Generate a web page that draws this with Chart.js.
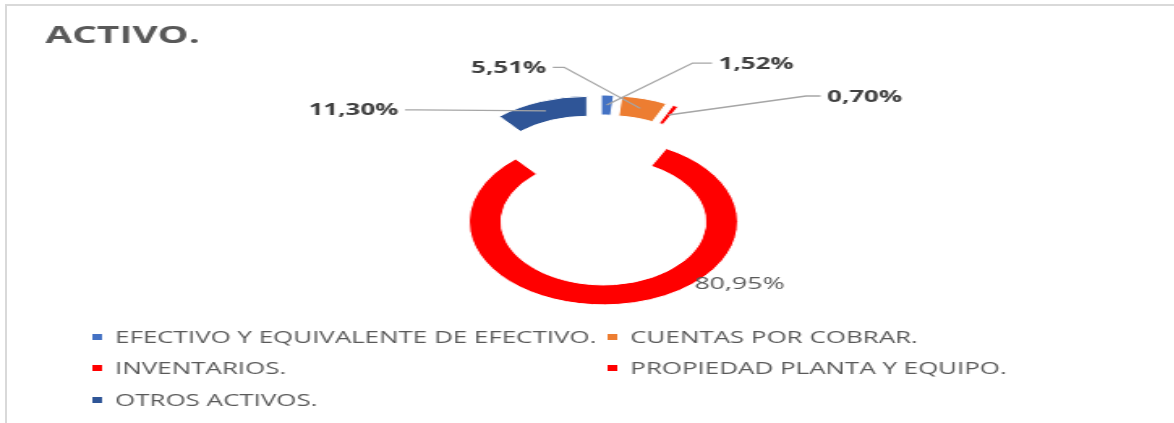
<!DOCTYPE html>
<html>
<head>
<meta charset="utf-8">
<script src="https://cdn.jsdelivr.net/npm/chart.js@4/dist/chart.umd.min.js"></script>
<style>
  body { margin: 0; background: #fff; overflow: hidden; }
  #frame { position: absolute; left: 5px; top: 4px; width: 1169px; height: 419px;
           border-top: 2px solid #d9d9d9; border-left: 2px solid #d9d9d9; }
  /* the reference picture is stretched sideways, so the canvas is too */
  #wrap { position: absolute; left: 0; top: 0; width: 725px; height: 423px;
          transform: scaleX(1.62); transform-origin: 0 0; }
</style>
</head>
<body>
<div id="frame"></div>
<div id="wrap"><canvas id="activoChart"></canvas></div>
<script>
// Chart data
const titulo = 'ACTIVO.';
const categorias = [
    'EFECTIVO Y EQUIVALENTE DE EFECTIVO.',
    'CUENTAS POR COBRAR.',
    'INVENTARIOS.',
    'PROPIEDAD PLANTA Y EQUIPO.',
    'OTROS ACTIVOS.'
];
const porcentajes = [1.52, 5.51, 0.70, 80.95, 11.30];
const colores = ['#4472c4', '#ed7d31', '#ff0000', '#ff0000', '#2f5597'];

const EXPLODE = 22;  // how far every slice is pulled out

// where each callout sits relative to its slice (elbow dx/dy, horizontal run)
const callouts = [
    { dx: 53, dy: -42, run: 12, bold: true },
    { dx: -47, dy: -41, run: -7, bold: true },
    { dx: 85, dy: -19, run: 9, bold: true },
    { dx: 48, dy: -11, run: 0, bold: false, noLine: true },
    { dx: -80, dy: -1, run: -7, bold: true }
];

function fmtPct(v) {
    return v.toFixed(2).replace('.', ',') + '%';
}

function midAngle(arc) {
    const p = arc.getProps(['startAngle', 'endAngle'], true);
    return (p.startAngle + p.endAngle) / 2;
}

// Draw the slices pulled straight out from the centre (Excel style explode)
const explodePlugin = {
    id: 'explode',
    beforeDatasetDraw(chart, args) {
        const ctx = chart.ctx;
        args.meta.data.forEach(arc => {
            const a = midAngle(arc);
            ctx.save();
            ctx.translate(Math.cos(a) * EXPLODE, Math.sin(a) * EXPLODE);
            arc.draw(ctx, chart.chartArea);
            ctx.restore();
        });
        return false;
    }
};

// Title, callout labels and a grid legend
const decorPlugin = {
    id: 'decor',
    afterDraw(chart) {
        const ctx = chart.ctx;
        ctx.save();

        // title
        ctx.fillStyle = '#595959';
        ctx.font = 'bold 24px "Open Sans"';
        ctx.textBaseline = 'alphabetic';
        ctx.textAlign = 'left';
        ctx.fillText(titulo, 28, 43);

        // callouts
        const meta = chart.getDatasetMeta(0);
        meta.data.forEach((arc, i) => {
            const p = arc.getProps(['x', 'y', 'innerRadius', 'outerRadius'], true);
            const mid = midAngle(arc);
            const r = (p.innerRadius + p.outerRadius) / 2 + EXPLODE;
            const ax = p.x + Math.cos(mid) * r;
            const ay = p.y + Math.sin(mid) * r;
            const c = callouts[i];
            const ex = ax + c.dx, ey = ay + c.dy;
            const endX = ex + c.run;
            const right = c.dx > 0;

            if (!c.noLine) {
                ctx.strokeStyle = '#a6a6a6';
                ctx.lineWidth = 1.3;
                ctx.beginPath();
                ctx.moveTo(ax, ay);
                ctx.lineTo(ex, ey);
                ctx.lineTo(endX, ey);
                ctx.stroke();
            }

            ctx.font = c.bold ? 'bold 16px "Open Sans"' : '16.5px "Open Sans"';
            ctx.fillStyle = c.bold ? '#404040' : '#595959';
            ctx.textBaseline = 'middle';
            ctx.textAlign = right ? 'left' : 'right';
            const tx = c.noLine ? ex : endX + (right ? 4 : -4);
            ctx.fillText(fmtPct(porcentajes[i]), tx, ey + 1);
        });

        // legend in two columns
        const colX = [57, 375];
        const rowY = [337, 368, 400];
        ctx.font = '16px "Open Sans"';
        ctx.textAlign = 'left';
        ctx.textBaseline = 'middle';
        categorias.forEach((cat, i) => {
            const x = colX[i % 2];
            const y = rowY[Math.floor(i / 2)];
            ctx.fillStyle = colores[i];
            ctx.fillRect(x, y - 3, 6, 6);
            ctx.fillStyle = '#595959';
            ctx.fillText(cat, x + 14, y + 1);
        });

        ctx.restore();
    }
};

const ctx = document.getElementById('activoChart').getContext('2d');
const activoChart = new Chart(ctx, {
    type: 'doughnut',
    data: {
        labels: categorias,
        datasets: [{
            data: porcentajes,
            backgroundColor: colores,
            borderColor: '#ffffff',
            borderWidth: 1,
            hoverOffset: 0
        }]
    },
    options: {
        responsive: true,
        maintainAspectRatio: false,
        animation: false,
        radius: 83,
        cutout: '76%',
        layout: { padding: { left: 15, right: 0, top: 0, bottom: 23 } },
        plugins: {
            legend: { display: false },
            title: { display: false },
            tooltip: { enabled: false }
        }
    },
    plugins: [explodePlugin, decorPlugin]
});
</script>
</body>
</html>
